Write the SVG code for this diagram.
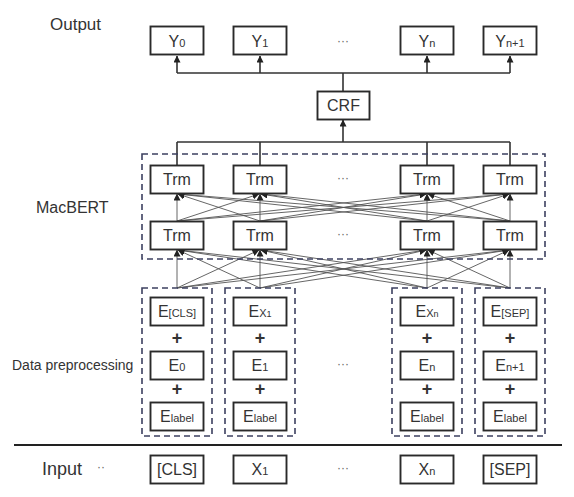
<svg xmlns="http://www.w3.org/2000/svg" width="574" height="497" viewBox="0 0 574 497">
<defs>
<style>
.box{fill:#fff;stroke:#2a2a2a;stroke-width:1.9}
.dash{fill:none;stroke:#3c4060;stroke-width:1.6;stroke-dasharray:6 4}
.t{font-family:"Liberation Sans",Arial,sans-serif;font-size:16px;fill:#333;text-anchor:middle}
.s{font-size:11px}
.ss{font-size:9px}
.lbl{font-family:"Liberation Sans",Arial,sans-serif;fill:#333}
.dots{font-family:"Liberation Sans",Arial,sans-serif;font-size:12px;fill:#666;text-anchor:middle}
.plus{font-family:"Liberation Sans",Arial,sans-serif;font-size:18px;font-weight:bold;fill:#333;text-anchor:middle}
.c{fill:none;stroke:#333;stroke-width:1.6}
.m{fill:none;stroke:#555;stroke-width:0.9}
</style>
<marker id="ah" viewBox="0 0 8 8" refX="7.5" refY="4" markerWidth="7" markerHeight="7" markerUnits="userSpaceOnUse" orient="auto">
<path d="M0,0 L8,4 L0,8 Z" fill="#222"/>
</marker>
</defs>
<rect width="574" height="497" fill="#fff"/>

<!-- labels -->
<text class="lbl" x="50" y="30" font-size="17">Output</text>
<text class="lbl" x="36" y="213" font-size="16">MacBERT</text>
<text class="lbl" x="12" y="370" font-size="14">Data preprocessing</text>
<text class="lbl" x="42" y="475" font-size="18">Input</text>
<text class="dots" x="101" y="471">··</text>

<!-- connectors -->
<g id="connectors">
<path class="c" d="M343,91 V73 M177,73 H510"/>
<path class="c" d="M177,73 V56" marker-end="url(#ah)"/>
<path class="c" d="M260,73 V56" marker-end="url(#ah)"/>
<path class="c" d="M427,73 V56" marker-end="url(#ah)"/>
<path class="c" d="M510,73 V56" marker-end="url(#ah)"/>
<path class="c" d="M343,142 V120" marker-end="url(#ah)"/>
<path class="c" d="M177,142 H510 M177,142 V165 M260,142 V165 M427,142 V165 M510,142 V165"/>
<g class="m" marker-end="url(#ah)">
<path d="M177,221 L177,194"/><path d="M177,221 L259,194"/><path d="M177,221 L426,194"/><path d="M177,221 L509,194"/>
<path d="M260,221 L178,194"/><path d="M260,221 L260,194"/><path d="M260,221 L426,194"/><path d="M260,221 L509,194"/>
<path d="M427,221 L178,194"/><path d="M427,221 L261,194"/><path d="M427,221 L427,194"/><path d="M427,221 L509,194"/>
<path d="M510,221 L178,194"/><path d="M510,221 L261,194"/><path d="M510,221 L428,194"/><path d="M510,221 L510,194"/>
<path d="M177,288 L177,250"/><path d="M177,288 L259,250"/><path d="M177,288 L426,250"/><path d="M177,288 L509,250"/>
<path d="M260,288 L178,250"/><path d="M260,288 L260,250"/><path d="M260,288 L426,250"/><path d="M260,288 L509,250"/>
<path d="M427,288 L178,250"/><path d="M427,288 L261,250"/><path d="M427,288 L427,250"/><path d="M427,288 L509,250"/>
<path d="M510,288 L178,250"/><path d="M510,288 L261,250"/><path d="M510,288 L428,250"/><path d="M510,288 L510,250"/>
</g>
<line x1="14" y1="445" x2="562" y2="445" stroke="#222" stroke-width="2"/>
</g>

<!-- dashed groups -->
<g id="macbert">
<rect class="dash" x="142" y="154" width="403" height="105"/>
</g>
<g id="prep-col1"><rect class="dash" x="142" y="288" width="70" height="148"/></g>
<g id="prep-col2"><rect class="dash" x="225" y="288" width="70" height="148"/></g>
<g id="prep-col3"><rect class="dash" x="392" y="288" width="70" height="148"/></g>
<g id="prep-col4"><rect class="dash" x="475" y="288" width="70" height="148"/></g>

<!-- output row -->
<g id="y0"><rect class="box" x="150.5" y="26.5" width="53" height="28"/><text class="t" x="177" y="47">Y<tspan class="s">0</tspan></text></g>
<g id="y1"><rect class="box" x="233.5" y="26.5" width="53" height="28"/><text class="t" x="260" y="47">Y<tspan class="s">1</tspan></text></g>
<text class="dots" x="343" y="45">···</text>
<g id="yn"><rect class="box" x="400.5" y="26.5" width="53" height="28"/><text class="t" x="427" y="47">Y<tspan class="s">n</tspan></text></g>
<g id="yn1"><rect class="box" x="483.5" y="26.5" width="53" height="28"/><text class="t" x="510" y="47">Y<tspan class="s">n+1</tspan></text></g>

<g id="crf"><rect class="box" x="317.5" y="91.5" width="52" height="28"/><text class="t" x="343.5" y="111">CRF</text></g>

<!-- Trm rows -->
<g id="trm11"><rect class="box" x="150.5" y="165.5" width="53" height="28"/><text class="t" x="177" y="185">Trm</text></g>
<g id="trm12"><rect class="box" x="233.5" y="165.5" width="53" height="28"/><text class="t" x="260" y="185">Trm</text></g>
<text class="dots" x="343" y="182">···</text>
<g id="trm13"><rect class="box" x="400.5" y="165.5" width="53" height="28"/><text class="t" x="427" y="185">Trm</text></g>
<g id="trm14"><rect class="box" x="483.5" y="165.5" width="53" height="28"/><text class="t" x="510" y="185">Trm</text></g>
<g id="trm21"><rect class="box" x="150.5" y="221.5" width="53" height="28"/><text class="t" x="177" y="241">Trm</text></g>
<g id="trm22"><rect class="box" x="233.5" y="221.5" width="53" height="28"/><text class="t" x="260" y="241">Trm</text></g>
<text class="dots" x="343" y="238">···</text>
<g id="trm23"><rect class="box" x="400.5" y="221.5" width="53" height="28"/><text class="t" x="427" y="241">Trm</text></g>
<g id="trm24"><rect class="box" x="483.5" y="221.5" width="53" height="28"/><text class="t" x="510" y="241">Trm</text></g>

<!-- embeddings col1 -->
<g id="e-cls"><rect class="box" x="150.5" y="297.5" width="53" height="28"/><text class="t" x="177" y="317">E<tspan class="s">[CLS]</tspan></text></g>
<text class="plus" x="177" y="344">+</text>
<g id="e-0"><rect class="box" x="150.5" y="351.5" width="53" height="28"/><text class="t" x="177" y="371">E<tspan class="s">0</tspan></text></g>
<text class="plus" x="177" y="395">+</text>
<g id="e-label1"><rect class="box" x="150.5" y="402.5" width="53" height="28"/><text class="t" x="177" y="422">E<tspan class="s">label</tspan></text></g>
<!-- col2 -->
<g id="e-x1"><rect class="box" x="233.5" y="297.5" width="53" height="28"/><text class="t" x="260" y="317">E<tspan class="s">X</tspan><tspan class="ss">1</tspan></text></g>
<text class="plus" x="260" y="344">+</text>
<g id="e-1"><rect class="box" x="233.5" y="351.5" width="53" height="28"/><text class="t" x="260" y="371">E<tspan class="s">1</tspan></text></g>
<text class="plus" x="260" y="395">+</text>
<g id="e-label2"><rect class="box" x="233.5" y="402.5" width="53" height="28"/><text class="t" x="260" y="422">E<tspan class="s">label</tspan></text></g>
<text class="dots" x="343" y="368">···</text>
<!-- col3 -->
<g id="e-xn"><rect class="box" x="400.5" y="297.5" width="53" height="28"/><text class="t" x="427" y="317">E<tspan class="s">X</tspan><tspan class="ss">n</tspan></text></g>
<text class="plus" x="427" y="344">+</text>
<g id="e-n"><rect class="box" x="400.5" y="351.5" width="53" height="28"/><text class="t" x="427" y="371">E<tspan class="s">n</tspan></text></g>
<text class="plus" x="427" y="395">+</text>
<g id="e-label3"><rect class="box" x="400.5" y="402.5" width="53" height="28"/><text class="t" x="427" y="422">E<tspan class="s">label</tspan></text></g>
<!-- col4 -->
<g id="e-sep"><rect class="box" x="483.5" y="297.5" width="53" height="28"/><text class="t" x="510" y="317">E<tspan class="s">[SEP]</tspan></text></g>
<text class="plus" x="510" y="344">+</text>
<g id="e-n1"><rect class="box" x="483.5" y="351.5" width="53" height="28"/><text class="t" x="510" y="371">E<tspan class="s">n+1</tspan></text></g>
<text class="plus" x="510" y="395">+</text>
<g id="e-label4"><rect class="box" x="483.5" y="402.5" width="53" height="28"/><text class="t" x="510" y="422">E<tspan class="s">label</tspan></text></g>

<!-- input row -->
<g id="in-cls"><rect class="box" x="150.5" y="455.5" width="53" height="28"/><text class="t" x="177" y="475">[CLS]</text></g>
<g id="in-x1"><rect class="box" x="233.5" y="455.5" width="53" height="28"/><text class="t" x="260" y="475">X<tspan class="s">1</tspan></text></g>
<text class="dots" x="343" y="472">···</text>
<g id="in-xn"><rect class="box" x="400.5" y="455.5" width="53" height="28"/><text class="t" x="427" y="475">X<tspan class="s">n</tspan></text></g>
<g id="in-sep"><rect class="box" x="483.5" y="455.5" width="53" height="28"/><text class="t" x="510" y="475">[SEP]</text></g>
</svg>
